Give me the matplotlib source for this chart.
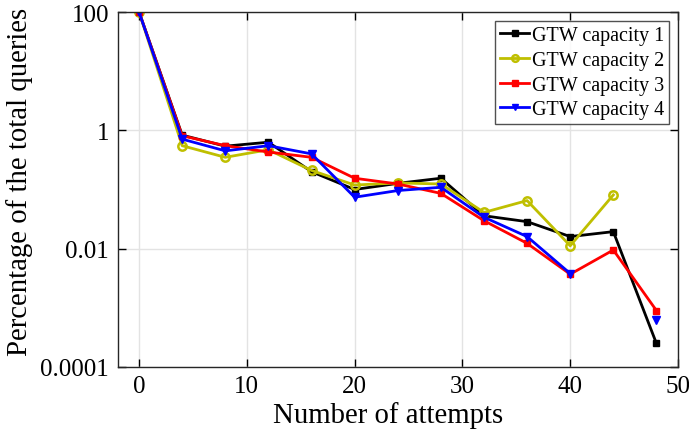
#!/usr/bin/env python3

import numpy as np
import matplotlib
matplotlib.use('Agg')
import matplotlib.pyplot as plt

plt.rcParams['font.family'] = ['Liberation Serif', 'DejaVu Serif']
plt.rcParams['mathtext.fontset'] = 'stix'

attempts = [0, 4, 8, 12, 16, 20, 24, 28, 32, 36, 40, 44, 48]
nan = np.nan
cap1 = [100, 0.83, 0.54, 0.63, 0.20, 0.10, 0.127, 0.155, 0.036, 0.0286, 0.016, 0.0194, 0.00025]
cap2 = [100, 0.55, 0.35, 0.47, 0.21, 0.119, 0.129, 0.124, 0.041, 0.065, 0.0112, 0.081, nan]
cap3 = [100, 0.81, 0.55, 0.43, 0.35, 0.155, 0.124, 0.086, 0.0297, 0.0123, 0.0037, 0.0095, 0.0009]
cap4 = [100, 0.71, 0.45, 0.55, 0.40, 0.074, 0.096, 0.109, 0.034, 0.016, 0.0038, nan, 0.00062]

labels = ['GTW capacity 1', 'GTW capacity 2', 'GTW capacity 3', 'GTW capacity 4']


def main():
    fig = plt.figure(figsize=(6.89, 4.35), dpi=100)
    ax = fig.add_axes([117.5 / 689, 1 - 368 / 435, (678 - 117.5) / 689, (368 - 13) / 435])

    ax.plot(attempts, cap1, color='k', lw=2, marker='s', ms=5, label=labels[0])
    ax.plot(attempts, cap2, color='#BFBF00', lw=2, marker='o', ms=6, mfc='none',
            mew=1.8, label=labels[1])
    ax.plot(attempts, cap3, color='r', lw=2, marker='s', ms=5, label=labels[2])
    ax.plot(attempts, cap4, color='b', lw=2, marker='v', ms=6, label=labels[3])

    ax.set_yscale('log')
    ax.set_ylim(1e-4, 100)
    ax.set_xlim(-2, 50)
    ax.set_yticks([1e-4, 1e-2, 1, 100])
    ax.set_yticklabels(['0.0001', '0.01', '1', '100'])
    ax.minorticks_off()
    ax.set_xticks([0, 10, 20, 30, 40, 50])

    ax.grid(True, color='#e3e3e3', lw=1)
    ax.set_axisbelow(True)
    ax.tick_params(direction='in', top=True, right=True, labelsize=18, length=6, width=1, pad=6)
    for s in ax.spines.values():
        s.set_linewidth(1)
        s.set_color('#262626')

    ax.set_xlabel('Number of attempts', fontsize=20.7)
    ax.xaxis.set_label_coords(0.483, -0.095, transform=ax.transAxes)
    ax.xaxis.label.set_va('top')
    ax.set_ylabel('Percentage of the total queries', fontsize=20.7)
    ax.yaxis.set_label_coords(-0.151, 0.524, transform=ax.transAxes)

    leg = ax.legend(loc='upper right', fontsize=14.5, frameon=True, fancybox=False,
                    edgecolor='#262626', handlelength=1.4, handletextpad=0.15,
                    borderpad=0.25, labelspacing=0.28, borderaxespad=0.45, markerscale=0.8)
    leg.get_frame().set_linewidth(1)

    fig.savefig('out.png', dpi=100)


if __name__ == "__main__":
    main()
